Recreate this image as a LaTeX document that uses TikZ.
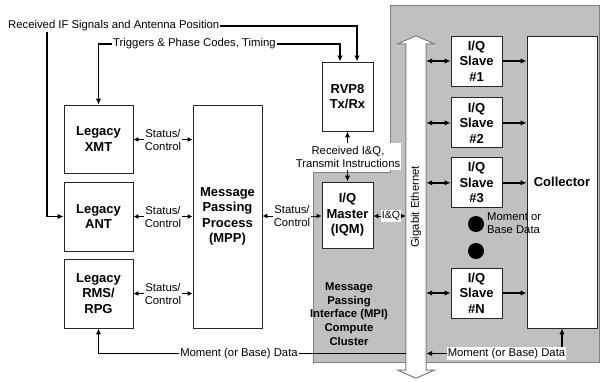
\documentclass[tikz,border=0pt]{standalone}
\usepackage{fontspec}
\setmainfont{Liberation Sans}
\usetikzlibrary{arrows.meta,positioning}
\definecolor{clustergray}{HTML}{C0C0C0}
\definecolor{clusteredge}{HTML}{7F7F7F}
\newcommand{\boxfont}{\fontsize{13}{15.5}\selectfont\bfseries}
\newcommand{\lblfont}{\fontsize{11.3}{13}\selectfont}
\newcommand{\mpifont}{\fontsize{11.3}{13.7}\selectfont\bfseries}

\begin{document}
\begin{tikzpicture}[x=1pt, y=-1pt,
  block/.style={
    draw=black!85, fill=white, line width=0.9pt, align=center,
    inner sep=0pt, font=\boxfont
  },
  slave/.style={block, minimum width=51pt, minimum height=50pt},
  lbl/.style={font=\lblfont, align=center, inner sep=1pt},
  wlbl/.style={lbl, fill=white},
  arrow/.style={-{Latex[length=6pt,width=5.5pt]}, line width=1.7pt},
  darrow/.style={{Latex[length=6pt,width=5.5pt]}-{Latex[length=6pt,width=5.5pt]}, line width=1.7pt},
  sarrow/.style={-{Latex[length=5pt,width=5pt]}, line width=0.9pt},
  line/.style={line width=1.7pt}
]
\useasboundingbox (0,0) rectangle (600,381);

% compute cluster
\draw[fill=clustergray, draw=clusteredge, line width=1pt]
  (313,172) -- (390,172) -- (390,5) -- (599,5) -- (599,362) -- (313,362) -- cycle;

% gigabit ethernet bus
\node[minimum width=20pt, minimum height=326pt, inner sep=0pt] (eth) at (416,207) {};
\draw[fill=white, draw=clusteredge, line width=1pt]
  (eth.south west) -- (eth.north west) -- ++(-8,0) -- ([yshift=8pt]eth.north)
  -- ([xshift=8pt]eth.north east) -- (eth.north east) -- (eth.south east)
  -- ([xshift=8pt]eth.south east) -- ([yshift=-8pt]eth.south)
  -- ([xshift=-8pt]eth.south west) -- cycle;
\node[lbl, rotate=90] (ethtxt) at (eth) {Gigabit Ethernet};

% legacy side
\node[block, minimum width=69pt, minimum height=68pt] (xmt) at (98.5,139) {Legacy\\XMT};
\node[block, minimum width=69pt, minimum height=69pt] (ant) at (98.5,216.5) {Legacy\\ANT};
\node[block, minimum width=69pt, minimum height=69pt] (rms) at (98.5,293.5) {Legacy\\RMS/\\RPG};
\node[block, minimum width=69pt, minimum height=223pt] (mpp) at (227.5,216.5) {Message\\Passing\\Process\\(MPP)};

\node[lbl] (sc1) at (163,139.5) {Status/\\Control};
\node[lbl] (sc2) at (163,216.5) {Status/\\Control};
\node[lbl] (sc3) at (163,293.5) {Status/\\Control};
\node[lbl] (sc4) at (292,216) {Status/\\Control};

% receiver and master
\node[block, minimum width=51pt, minimum height=69pt] (rvp) at (347.5,96.5) {RVP8\\Tx/Rx};
\node[block, minimum width=51pt, minimum height=66pt] (iqm) at (347.5,215) {I/Q\\Master\\(IQM)};
\node[wlbl, inner ysep=3pt] (rxiq) at (348,156.5) {Received I\&Q,\\Transmit Instructions};
\node[wlbl, font=\fontsize{10.5}{12}\selectfont] (iq) at (391,216) {I\&Q};

% slaves and collector
\node[slave] (s1) at (476.5,61) {I/Q\\Slave\\\#1};
\node[slave, below=11pt of s1] (s2) {I/Q\\Slave\\\#2};
\node[slave, below=9pt of s2] (s3) {I/Q\\Slave\\\#3};
\node[slave] (sn) at (476.5,293) {I/Q\\Slave\\\#N};
\node[block, minimum width=70pt, minimum height=292pt] (coll) at (562,182) {Collector};

\node[circle, fill, inner sep=0pt, minimum size=16pt] (dot1) at (476,224) {};
\node[circle, fill, inner sep=0pt, minimum size=16pt] (dot2) at (476,251) {};
\node[lbl, anchor=west, align=left] (mbd) at (486,223.5) {Moment or\\Base Data};

\node[font=\mpifont, align=center, inner sep=0pt] (mpi) at (349,314) {Message\\Passing\\Interface (MPI)\\Compute\\Cluster};

% top feeds
\node[lbl, anchor=west] (rxif) at (7,26) {Received IF Signals and Antenna Position};
\node[lbl, anchor=west] (trig) at (112,44) {Triggers \& Phase Codes, Timing};

% bottom data path
\node[wlbl] (mbr) at (506.5,353.5) {Moment (or Base) Data};
\node[lbl] (mbl) at (239,353.5) {Moment (or Base) Data};

% connectors
\draw[arrow] (rxif.east) -| ([xshift=9.5pt]rvp.north);
\draw[arrow] ([xshift=40pt]rxif.south west) |- (ant.west);
\draw[arrow] (trig.east) -| ([xshift=-7.5pt]rvp.north);
\draw[arrow] (trig.west) -| (xmt.north);

\draw[sarrow] (sc1.west) -- (sc1.west -| xmt.east);
\draw[sarrow] (sc1.east) -- (sc1.east -| mpp.west);
\draw[sarrow] (sc2.west) -- (sc2.west -| ant.east);
\draw[sarrow] (sc2.east) -- (sc2.east -| mpp.west);
\draw[sarrow] (sc3.west) -- (sc3.west -| rms.east);
\draw[sarrow] (sc3.east) -- (sc3.east -| mpp.west);
\draw[sarrow] (sc4.west) -- (sc4.west -| mpp.east);
\draw[sarrow] (sc4.east) -- (sc4.east -| iqm.west);

\draw[arrow] (rxiq.north -| rvp.south) -- (rvp.south);
\draw[arrow] (rxiq.south -| iqm.north) -- (iqm.north);
\draw[sarrow] (iq.west) -- (iq.west -| iqm.east);
\draw[sarrow] (iq.east) -- (iq.east -| eth.west);

\foreach \s in {s1,s2,s3,sn} {
  \draw[darrow] (\s.west -| eth.east) -- (\s.west);
  \draw[arrow] (\s.east) -- (\s.east -| coll.west);
}

\draw[arrow] (mbr.north -| coll.south) -- (coll.south);
\draw[arrow] (mbr.west) -- (mbr.west -| eth.east);
\draw[line] (eth.west |- mbl.east) -- (mbl.east);
\draw[arrow] (mbl.west) -| (rms.south);
\end{tikzpicture}
\end{document}
